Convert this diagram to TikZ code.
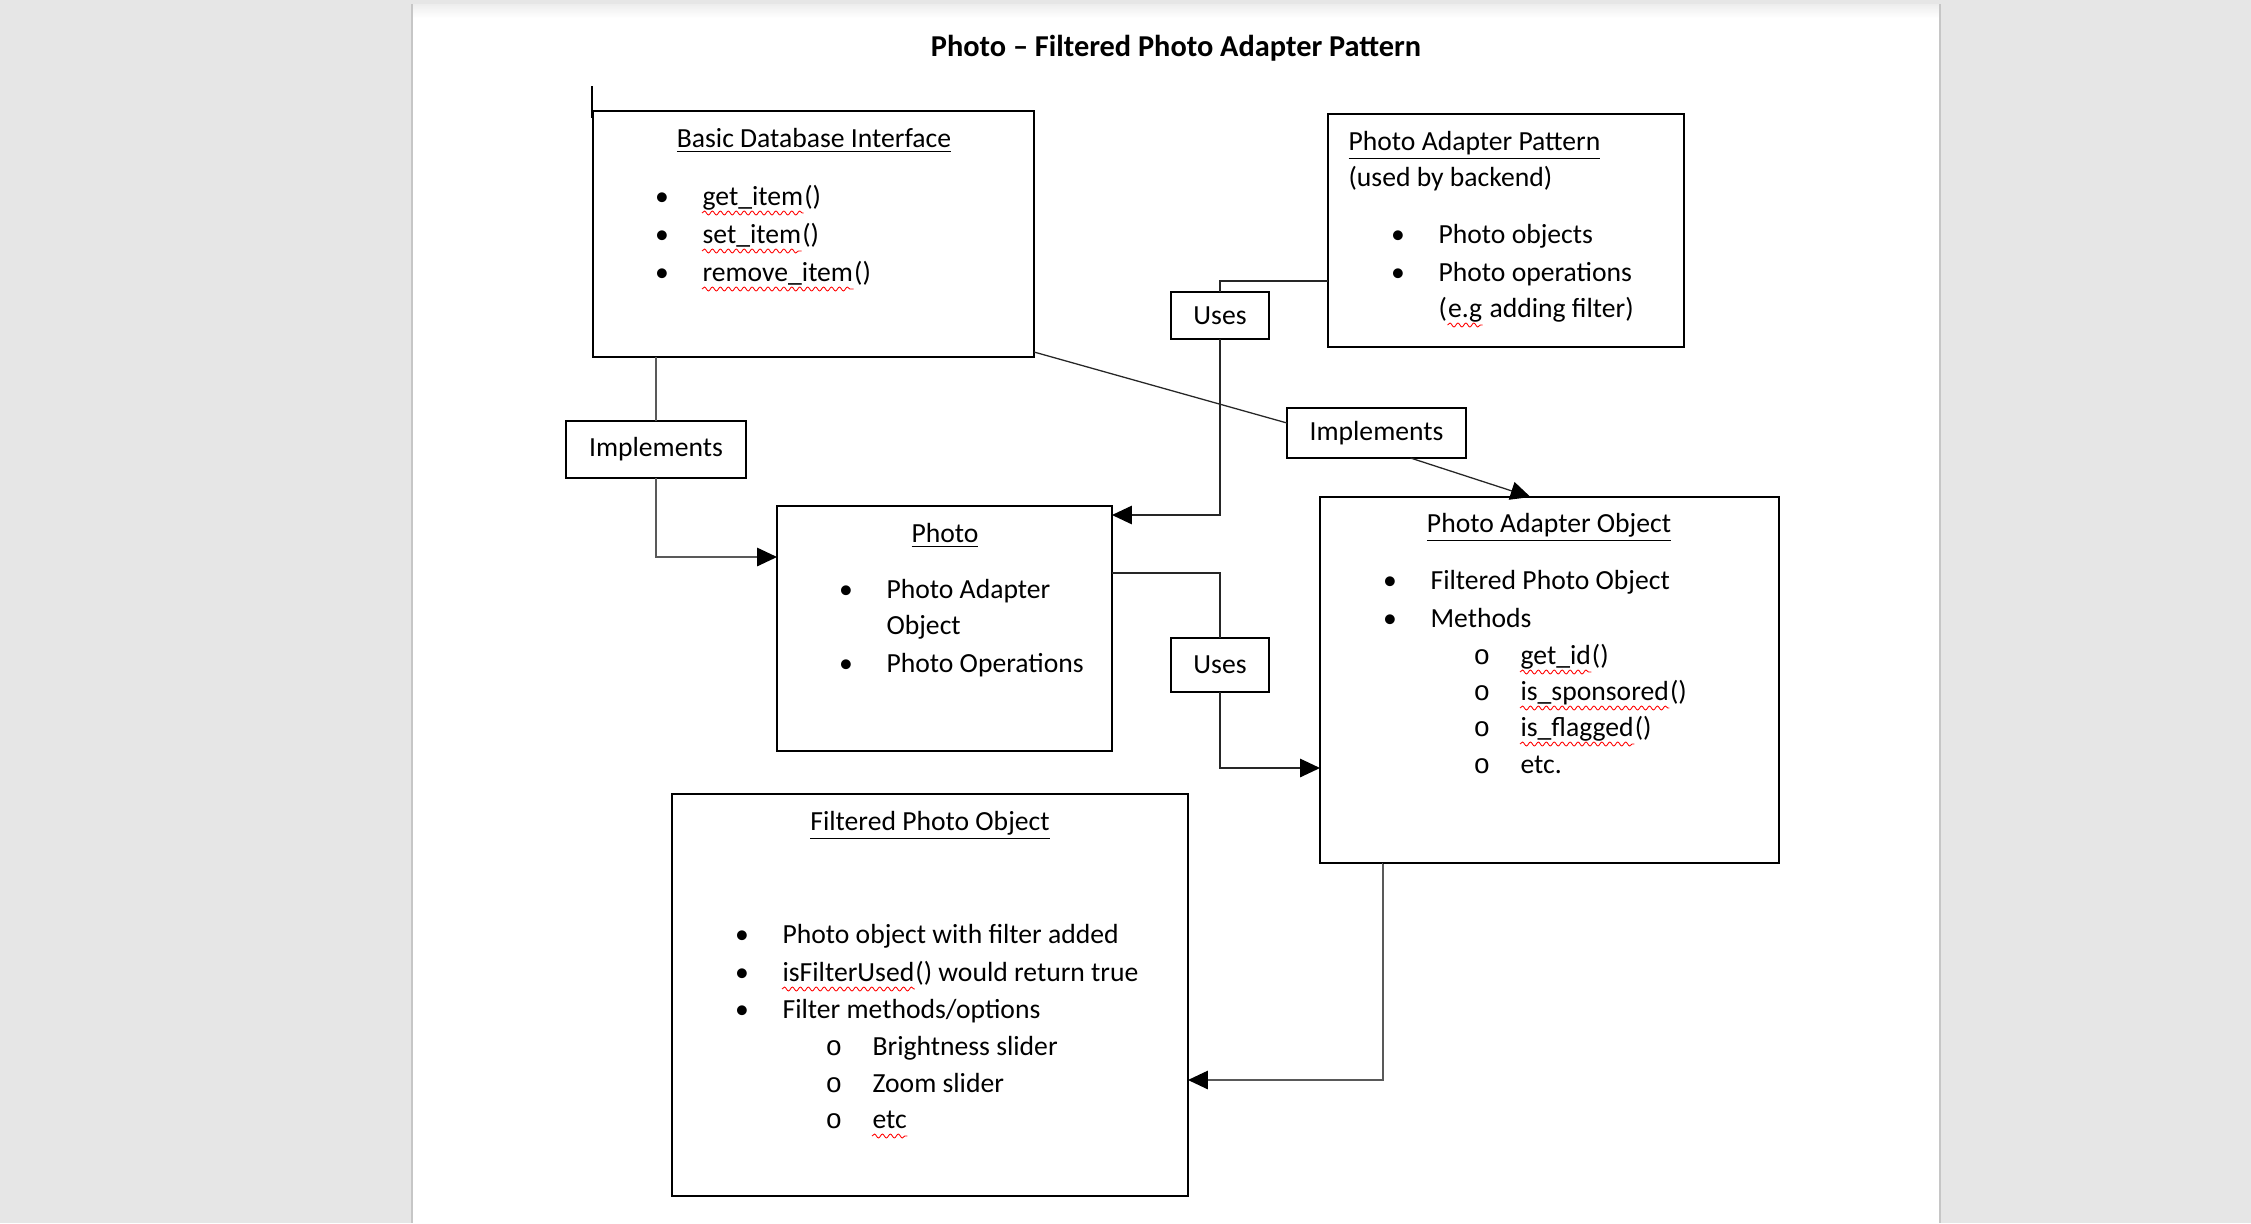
\documentclass[tikz,border=0pt]{standalone}
\usepackage{fontspec}
\setmainfont{Carlito}
\setmonofont{Liberation Mono}
\usetikzlibrary{arrows.meta, positioning, calc, decorations.pathmorphing}
\definecolor{deskgray}{RGB}{230,230,230}
\newcommand{\pu}{0.3527pt}

\begin{document}
\begin{tikzpicture}[x=\pu, y=-\pu, >={Triangle[length=7pt,width=6.5pt,color=black]},
  font=\fontsize{9.75}{12}\selectfont,
  box/.style={draw, line width=0.5pt, inner sep=0, outer sep=0},
  txt/.style={anchor=base west, inner sep=0},
  mid/.style={anchor=base, inner sep=0},
  link/.style={line width=0.45pt, black!85},
  squig/.style={red, line width=0.3pt, decorate,
    decoration={snake, amplitude=0.7pt, segment length=2.8pt}}]
  % Page
  \fill[deskgray] (0,0) rectangle (2251,1223);
  \fill[white] (412,4) rectangle (1940,1223);
  \shade[top color=gray!14, bottom color=white] (412,4) rectangle (1940,18);
  \draw[gray!45] (412,4) -- (412,1223);
  \draw[gray!45] (1940,4) -- (1940,1223);
  \draw[line width=0.8pt] (592,86) -- (592,118);

  % Title
  \node[mid, font=\bfseries\fontsize{10.7}{13}\selectfont] (title) at (1176,56) {Photo – Filtered Photo Adapter Pattern};

  % Boxes
  \node[box, minimum width=441*\pu, minimum height=246*\pu] (bdi) at (813.5,234) {};
  \node[box, minimum width=356*\pu, minimum height=233*\pu] (pap) at (1506,230.5) {};
  \node[box, minimum width=335*\pu, minimum height=245*\pu] (photo) at (944.5,628.5) {};
  \node[box, minimum width=459*\pu, minimum height=366*\pu] (pao) at (1549.5,680) {};
  \node[box, minimum width=516*\pu, minimum height=402*\pu] (fpo) at (930,995) {};

  % Labels on the connectors
  \node[box, minimum width=98*\pu, minimum height=47*\pu] (uses1) at (1220,315.5) {Uses};
  \node[box, minimum width=98*\pu, minimum height=54*\pu] (uses2) at (1220,665) {Uses};
  \node[box, minimum width=180*\pu, minimum height=57*\pu] (impl1) at (656,449.5) {Implements};
  \node[box, minimum width=179*\pu, minimum height=50*\pu] (impl2) at (1376.5,433) {Implements};

  % Basic Database Interface
  \node[mid] (bdi-t) at (814,147) {\underline{Basic Database Interface}};
  \foreach \y [count=\i] in {205,243,281}
    \node[mid] (bdi-d\i) at (662,\y) {\textbullet};
  \node[txt] (bdi-1) at (702,205) {get\_item};
  \node[txt] (bdi-1p) at (bdi-1.base east) {()};
  \node[txt] (bdi-2) at (702,243) {set\_item};
  \node[txt] (bdi-2p) at (bdi-2.base east) {()};
  \node[txt] (bdi-3) at (702,281) {remove\_item};
  \node[txt] (bdi-3p) at (bdi-3.base east) {()};

  % Photo Adapter Pattern
  \node[txt] (pap-t) at (1348,150) {\underline{Photo Adapter Pattern}};
  \node[txt] (pap-s) at (1348,186) {(used by backend)};
  \foreach \y [count=\i] in {243,281}
    \node[mid] (pap-d\i) at (1398,\y) {\textbullet};
  \node[txt] (pap-1) at (1438,243) {Photo objects};
  \node[txt] (pap-2) at (1438,281) {Photo operations};
  \node[txt] (pap-3a) at (1438,317) {(};
  \node[txt] (pap-3) at (pap-3a.base east) {e.g};
  \node[txt] (pap-3b) at (pap-3.base east) {\ adding filter)};

  % Photo
  \node[mid] (photo-t) at (945,542) {\underline{Photo}};
  \foreach \y [count=\i] in {598,672}
    \node[mid] (photo-d\i) at (846,\y) {\textbullet};
  \node[txt] (photo-1) at (886,598) {Photo Adapter};
  \node[txt] (photo-2) at (886,634) {Object};
  \node[txt] (photo-3) at (886,672) {Photo Operations};

  % Photo Adapter Object
  \node[mid] (pao-t) at (1549,532) {\underline{Photo Adapter Object}};
  \foreach \y [count=\i] in {589,627}
    \node[mid] (pao-d\i) at (1390,\y) {\textbullet};
  \node[txt] (pao-1) at (1430,589) {Filtered Photo Object};
  \node[txt] (pao-2) at (1430,627) {Methods};
  \foreach \y [count=\i] in {664,700,736,773}
    \node[mid] (pao-o\i) at (1482,\y) {\texttt{o}};
  \node[txt] (pao-3) at (1520,664) {get\_id};
  \node[txt] (pao-3p) at (pao-3.base east) {()};
  \node[txt] (pao-4) at (1520,700) {is\_sponsored};
  \node[txt] (pao-4p) at (pao-4.base east) {()};
  \node[txt] (pao-5) at (1520,736) {is\_flagged};
  \node[txt] (pao-5p) at (pao-5.base east) {()};
  \node[txt] (pao-6) at (1520,773) {etc.};

  % Filtered Photo Object
  \node[mid] (fpo-t) at (930,830) {\underline{Filtered Photo Object}};
  \foreach \y [count=\i] in {943,981,1018}
    \node[mid] (fpo-d\i) at (742,\y) {\textbullet};
  \node[txt] (fpo-1) at (782,943) {Photo object with filter added};
  \node[txt] (fpo-2) at (782,981) {isFilterUsed};
  \node[txt] (fpo-2p) at (fpo-2.base east) {() would return true};
  \node[txt] (fpo-3) at (782,1018) {Filter methods/options};
  \foreach \y [count=\i] in {1055,1092,1128}
    \node[mid] (fpo-o\i) at (834,\y) {\texttt{o}};
  \node[txt] (fpo-4) at (872,1055) {Brightness slider};
  \node[txt] (fpo-5) at (872,1092) {Zoom slider};
  \node[txt] (fpo-6) at (872,1128) {etc};

  % Spelling marks
  \foreach \n in {bdi-1, bdi-2, bdi-3, pap-3, pao-3, pao-4, pao-5, fpo-2, fpo-6}
    \draw[squig] ($(\n.base west)+(0,8)$) -- ($(\n.base east)+(0,8)$);

  % Arrows
  \draw[link, black!65] (bdi.south -| impl1.north) -- (impl1.north);
  \draw[link, black!65, ->] (impl1.south) |- ($(photo.north west)+(0,51)$);
  \draw[link] ($(pap.north west)+(0,167)$) -| (uses1.north);
  \draw[link, ->] (uses1.south) |- ($(photo.north east)+(0,9)$);
  \draw[link] ($(photo.north east)+(0,67)$) -| (uses2.north);
  \draw[link, ->] (uses2.south) |- ($(pao.north west)+(0,271)$);
  \draw[link] ($(bdi.south east)+(0,-5)$) -- ($(impl2.north west)+(0,15)$);
  \draw[link, ->] ($(impl2.south)+(34,0)$) -- ($(pao.north)+(-19,0)$);
  \draw[link, black!65, ->] ($(pao.south west)+(63,0)$) |- ($(fpo.north east)+(0,286)$);
  \draw[line width=1pt] ($(pao.south west)+(63,0)$) -- ($(pao.south west)+(259,0)$);
\end{tikzpicture}
\end{document}
